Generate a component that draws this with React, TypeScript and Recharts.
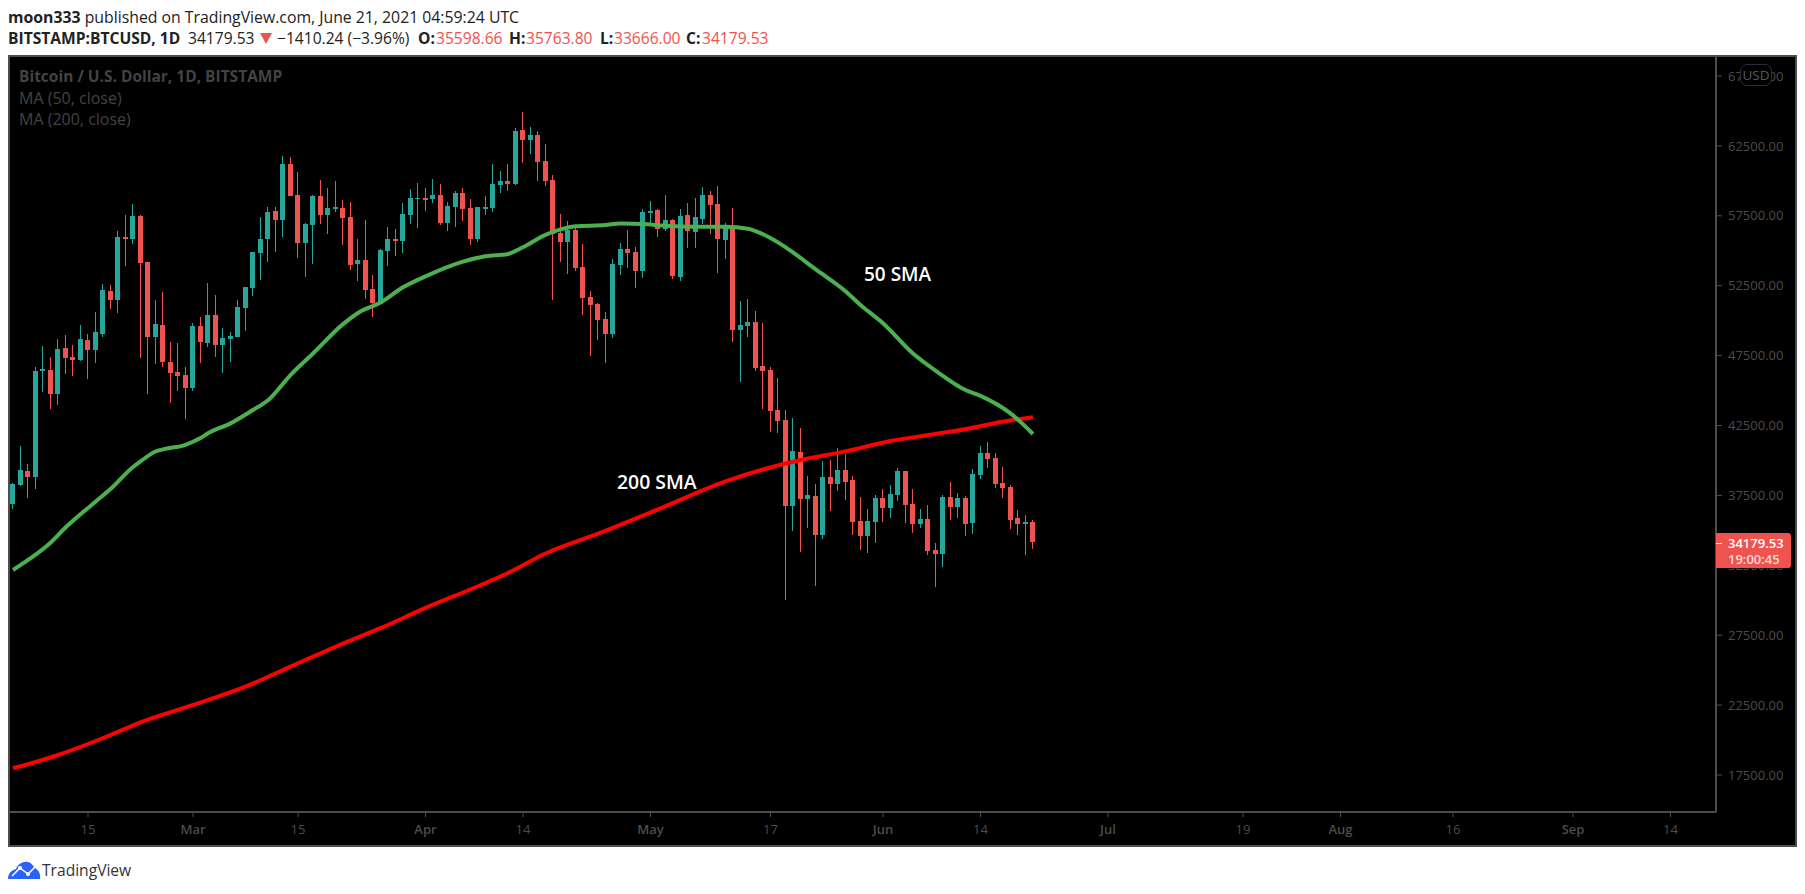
import React from "react";
import { Bar, ComposedChart, Line, XAxis, YAxis } from "recharts";

// daily candles, Feb 5 2021 .. Jun 21 2021 (day 0 = Feb 15)
const firstDay = -10;
const opens = [
	36890, 38240, 39250, 38820, 46425, 46470, 44760, 48050, 47400, 47190, 48620, 47900, 49050, 52120, 51480, 55985, 55840, 57490, 54200, 48830,
	49690, 47045, 46330, 46110, 45185, 49620, 48400, 50410, 48260, 48690, 48830, 50910, 52340, 54840, 55840, 57840, 57200, 61205, 58990, 55555,
	56840, 58915, 57560, 57985, 58060, 57415, 54055, 54340, 52265, 51190, 54985, 55840, 55700, 57560, 58700, 58775, 58700, 58990, 56985, 58130,
	59130, 58060, 55840, 57985, 58060, 59705, 59990, 59775, 63635, 62920, 63280, 61420, 60060, 56270, 55625, 56485, 53840, 51695, 51190, 50120,
	49045, 53980, 55125, 54910, 53555, 57700, 57915, 56555, 57200, 53125, 57560, 56340, 57270, 58990, 58345, 55770, 56770, 49335, 49620, 49905,
	46760, 46470, 43610, 42890, 36740, 40605, 37245, 37460, 34670, 38815, 38315, 39315, 38600, 35670, 34600, 35600, 37315, 36600, 37530, 39245,
	36885, 35455, 35815, 33595, 33310, 37385, 36670, 37315, 35525, 38960, 40535, 40175, 38385, 38100, 35885, 35455, 35598,
];
const highs = [
	38360, 41035, 39745, 46690, 48190, 47405, 48690, 48975, 48260, 49690, 49045, 50620, 52620, 52550, 56415, 57560, 58345, 57560, 54200, 51480,
	52050, 48475, 48405, 46690, 49835, 50265, 52695, 51835, 49475, 49190, 51480, 52410, 54910, 57415, 58130, 58130, 61780, 61705, 60635, 56985,
	58990, 60060, 59490, 59990, 58630, 58490, 55840, 57200, 53265, 55125, 56700, 56555, 58415, 59420, 59845, 59490, 60135, 59775, 58490, 59275,
	59490, 58700, 58130, 58915, 61205, 60705, 61205, 63780, 64925, 63850, 63565, 62635, 60420, 57630, 57130, 56770, 55485, 52125, 51265, 50620,
	54410, 55555, 56485, 55270, 57985, 58560, 57985, 58990, 57270, 57985, 58415, 58775, 59560, 59275, 59630, 56985, 58060, 51405, 51550, 50690,
	49835, 46685, 45900, 43610, 43035, 42320, 38890, 38315, 39960, 40030, 40890, 40460, 38890, 37385, 36530, 37530, 37960, 38245, 39460, 39245,
	37960, 36530, 36815, 34095, 37530, 38460, 37670, 37460, 39390, 41035, 41320, 40535, 39530, 38245, 36455, 36100, 35764,
];
const lows = [
	36530, 38170, 37315, 37960, 44900, 43685, 43970, 46185, 46045, 47115, 45830, 46975, 48835, 50835, 50550, 53910, 55485, 47330, 44755, 46900,
	46685, 44110, 44970, 42970, 44970, 46975, 48120, 47405, 46260, 47045, 48835, 49260, 51765, 52910, 54195, 54910, 55985, 58915, 54485, 53125,
	54055, 56915, 56200, 57775, 55415, 53625, 52840, 51550, 50265, 51190, 53910, 54625, 54840, 56915, 56630, 57845, 58415, 56840, 56415, 56700,
	57130, 55415, 55625, 57560, 57775, 59130, 59275, 59705, 61275, 61920, 59990, 59630, 51480, 54195, 53340, 53555, 50405, 47475, 48620, 46975,
	48760, 53265, 53770, 52335, 53050, 56985, 55985, 56415, 52980, 52840, 55200, 55200, 56915, 56200, 53410, 54410, 48475, 45615, 48835, 46400,
	43685, 42035, 41965, 30020, 34955, 33450, 35170, 31020, 34380, 36385, 37815, 37170, 34670, 33595, 33380, 34095, 35600, 35885, 37100, 35525,
	34810, 35170, 33240, 30950, 32380, 35740, 35885, 34595, 34740, 38670, 39460, 38030, 37315, 35100, 34670, 33240, 33666,
];
const closes = [
	38320, 39315, 38815, 46400, 46545, 44755, 47975, 47330, 47190, 48690, 47900, 49190, 52195, 51480, 55985, 55840, 57490, 54125, 48830, 49765,
	47045, 46260, 46045, 45185, 49620, 48475, 50405, 48260, 48760, 48905, 50980, 52410, 54910, 55840, 57775, 57200, 61205, 58915, 55555, 56915,
	58915, 57560, 58060, 58130, 57345, 53980, 54340, 52195, 51265, 55055, 55840, 55700, 57630, 58775, 58775, 58630, 58990, 56985, 58200, 59130,
	57985, 55840, 58130, 58130, 59775, 59990, 59775, 63565, 62920, 63280, 61350, 59990, 56200, 55625, 56485, 53770, 51620, 51120, 50050, 49045,
	54055, 55125, 54840, 53555, 57775, 57845, 56555, 57200, 53195, 57490, 56415, 57415, 58990, 58270, 55840, 56845, 49335, 49690, 49905, 46615,
	46400, 43540, 42825, 36740, 40675, 37245, 37530, 34670, 38815, 38315, 39315, 38460, 35600, 34600, 35670, 37315, 36600, 37600, 39245, 36815,
	35455, 35815, 33525, 33310, 37385, 36670, 37315, 35455, 39030, 40535, 40105, 38315, 38030, 35740, 35455, 35600, 34179.53,
];

const sma50Days = [-10, -8, -5, -3, 1, 3, 6, 7, 9, 10, 13, 15, 16, 19, 22, 24, 27, 30, 34, 36, 39, 42, 45, 50, 53, 56, 58, 61, 63, 65, 69, 71, 74, 77, 81, 85, 88, 90, 92, 94, 97, 101, 103, 106, 110, 113, 117, 119, 123, 126];
const sma50Values = [32160, 32880, 34120, 35200, 37050, 37950, 39530, 39930, 40640, 40790, 41120, 41600, 41940, 42650, 43610, 44300, 46110, 47650, 49750, 50550, 51300, 52385, 53170, 54220, 54600, 54770, 55250, 56130, 56530, 56750, 56840, 56950, 56920, 56780, 56720, 56720, 56580, 56180, 55600, 54880, 53680, 52100, 51120, 49820, 47650, 46430, 45040, 44620, 43370, 41890];

const sma200Days = [-10, -8, -4, 3, 7, 14, 21, 27, 34, 39, 45, 52, 56, 61, 68, 76, 85, 90, 95, 101, 107, 113, 118, 121, 126];
const sma200Values = [17980, 18265, 18930, 20360, 21270, 22510, 23820, 25250, 26900, 28000, 29450, 31000, 31950, 33340, 34760, 36500, 38500, 39350, 40030, 40650, 41390, 41890, 42340, 42680, 43090];

const priceTicks = [17500, 22500, 27500, 32500, 37500, 42500, 47500, 52500, 57500, 62500, 67500];
const timeTickDays = [0, 14, 28, 45, 58, 75, 91, 106, 119, 136, 154, 167, 182, 198, 211];
const timeTickLabels = ["15", "Mar", "15", "Apr", "14", "May", "17", "Jun", "14", "Jul", "19", "Aug", "16", "Sep", "14"];

const rows = opens.map((open, i) => {
	const day = firstDay + i;
	const at50 = sma50Days.indexOf(day);
	const at200 = sma200Days.indexOf(day);
	return {
		day,
		open,
		high: highs[i],
		low: lows[i],
		close: closes[i],
		range: [lows[i], highs[i]],
		sma50: at50 >= 0 ? sma50Values[at50] : null,
		sma200: at200 >= 0 ? sma200Values[at200] : null,
	};
});

const UP = "#26a69a";
const DOWN = "#ef5350";
const FRAME = "#4d4d4d";
const AXIS_TEXT = "#4c4c4c";
const FONT = "'Open Sans', sans-serif";

// draws wick and body from the pixel box that the bar gets for [low, high]
const Candle = (props: any) => {
	const { x, y, width, height, payload } = props;
	const { open, high, low, close } = payload;
	const perUnit = height / (high - low);
	const cx = Math.round(x + width / 2 - 0.5);
	const top = y + (high - Math.max(open, close)) * perUnit;
	const bodyHeight = Math.max(Math.abs(open - close) * perUnit, 1);
	const color = close >= open ? UP : DOWN;
	return (
		<g shapeRendering="crispEdges">
			<rect x={cx} y={y} width={1} height={height} fill={color} />
			<rect x={cx - 2} y={top} width={5} height={bodyHeight} fill={color} />
		</g>
	);
};

const TimeTick = (props: any) => {
	const { x, y, payload } = props;
	const label = timeTickLabels[timeTickDays.indexOf(payload.value)];
	const isMonth = label.length > 2;
	return (
		<text x={x} y={y + 15} textAnchor="middle" fontSize={13} fontFamily={FONT} fontWeight={isMonth ? 600 : 400} fill={AXIS_TEXT}>
			{label}
		</text>
	);
};

const abs = (left: number, top: number, extra: React.CSSProperties = {}): React.CSSProperties => ({
	position: "absolute",
	left,
	top,
	whiteSpace: "nowrap",
	...extra,
});

const headerRow = { fontSize: 15.6, lineHeight: "22px", color: "#222" };
const redValue = { ...headerRow, color: DOWN };

export default function App() {
	return (
		<div style={{ position: "absolute", left: 0, top: 0, width: 1805, height: 894, background: "#fff", fontFamily: FONT, overflow: "hidden" }}>
			<div style={abs(8, 6, { ...headerRow, fontSize: 15.8 })}>
				<b>moon333</b> published on TradingView.com, June 21, 2021 04:59:24 UTC
			</div>
			<b style={abs(8, 27, headerRow)}>BITSTAMP:BTCUSD, 1D</b>
			<span style={abs(188, 27, headerRow)}>34179.53</span>
			<svg style={abs(260, 33)} width={12} height={11}>
				<polygon points="0,0 12,0 6,11" fill={DOWN} />
			</svg>
			<span style={abs(277, 27, headerRow)}>−1410.24 (−3.96%)</span>
			<b style={abs(418, 27, headerRow)}>O:</b>
			<span style={abs(436, 27, redValue)}>35598.66</span>
			<b style={abs(509, 27, headerRow)}>H:</b>
			<span style={abs(526, 27, redValue)}>35763.80</span>
			<b style={abs(600, 27, headerRow)}>L:</b>
			<span style={abs(614, 27, redValue)}>33666.00</span>
			<b style={abs(686, 27, headerRow)}>C:</b>
			<span style={abs(702, 27, redValue)}>34179.53</span>

			<div style={abs(8, 55, { width: 1789, height: 792, background: "#000" })} />
			<div style={abs(0, 0)}>
				<ComposedChart width={1805} height={894} data={rows} margin={{ top: 55, right: 8, bottom: 47, left: 8 }}>
					<XAxis
						dataKey="day"
						type="number"
						domain={[-10.667, 217.067]}
						allowDataOverflow
						ticks={timeTickDays}
						interval={0}
						height={35}
						tick={<TimeTick />}
						tickSize={5}
						stroke={FRAME}
						strokeWidth={2}
						tickLine={{ stroke: FRAME, strokeWidth: 1 }}
					/>
					<YAxis
						orientation="right"
						type="number"
						domain={[14853, 69002]}
						allowDataOverflow
						ticks={priceTicks}
						interval={0}
						width={81}
						tickSize={6}
						tickMargin={6}
						tickFormatter={(v: number) => v.toFixed(2)}
						tick={{ fontSize: 13, fontFamily: FONT, fill: AXIS_TEXT }}
						stroke={FRAME}
						strokeWidth={2}
						tickLine={{ stroke: FRAME, strokeWidth: 1 }}
					/>
					<Bar dataKey="range" barSize={5} shape={<Candle />} isAnimationActive={false} />
					<Line dataKey="sma200" type="monotone" connectNulls stroke="#ff0000" strokeWidth={4} dot={false} activeDot={false} isAnimationActive={false} />
					<Line dataKey="sma50" type="monotone" connectNulls stroke="#4caf50" strokeWidth={4} dot={false} activeDot={false} isAnimationActive={false} />
				</ComposedChart>
			</div>

			<div style={abs(8, 55, { width: 1785, height: 788, border: `2px solid ${FRAME}` })} />

			<div style={abs(19, 65, { fontSize: 15.5, lineHeight: "22px", fontWeight: 700, color: "#434343" })}>Bitcoin / U.S. Dollar, 1D, BITSTAMP</div>
			<div style={abs(19, 87, { fontSize: 16, lineHeight: "22px", color: "#434343" })}>MA (50, close)</div>
			<div style={abs(19, 108, { fontSize: 16, lineHeight: "22px", color: "#434343" })}>MA (200, close)</div>

			<div style={abs(864, 262, { fontSize: 19, lineHeight: "24px", fontWeight: 600, color: "#fff" })}>50 SMA</div>
			<div style={abs(617, 470, { fontSize: 19.4, lineHeight: "24px", fontWeight: 600, color: "#fff" })}>200 SMA</div>

			<div
				style={abs(1740, 64, {
					width: 32,
					height: 22,
					boxSizing: "border-box",
					border: "1px solid #2a2e39",
					borderRadius: 7,
					background: "#000",
					color: "#5a5a5a",
					fontSize: 13.5,
					lineHeight: "20px",
					textAlign: "center",
				})}
			>
				USD
			</div>

			<div
				style={abs(1716, 533, {
					width: 75,
					height: 35,
					background: DOWN,
					borderRadius: "0 3px 3px 0",
					color: "#fff",
					fontSize: 13,
				})}
			>
				<div style={abs(0, 10, { width: 6, height: 1, background: "#fff" })} />
				<div style={abs(12, 1, { lineHeight: "18px", fontWeight: 600 })}>34179.53</div>
				<div style={abs(12, 17, { lineHeight: "18px", fontWeight: 600, color: "#ffd9d8" })}>19:00:45</div>
			</div>

			<svg style={abs(8, 860)} width={33} height={20} viewBox="0 0 33 20">
				<path d="M0 19 C0 13 4 10 8 9 C10 4 15 1 20 2 C24 3 25 6 27 8 C30 10 33 13 32 19 Z" fill="#2962ff" />
				<path d="M4 16 L12 8 L20 14 L27 7" fill="none" stroke="#fff" strokeWidth={1.5} />
				<circle cx={12} cy={8} r={2} fill="#fff" />
				<circle cx={20} cy={14} r={2} fill="#fff" />
			</svg>
			<div style={abs(42, 858, { fontSize: 15.6, lineHeight: "24px", color: "#333" })}>TradingView</div>
		</div>
	);
}
